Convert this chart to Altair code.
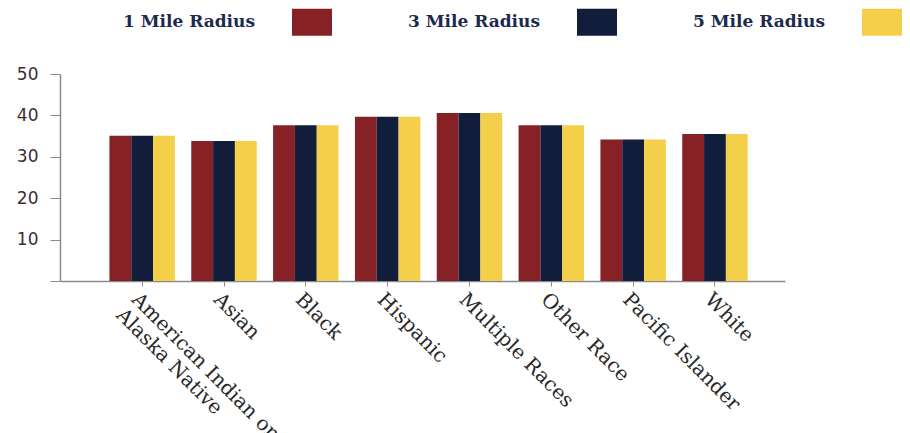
import altair as alt
import pandas as pd

categories = ["American Indian or Alaska Native", "Asian", "Black", "Hispanic",
              "Multiple Races", "Other Race", "Pacific Islander", "White"]
series = ["1 Mile Radius", "3 Mile Radius", "5 Mile Radius"]
one_mile = [35.1, 33.8, 37.6, 39.7, 40.6, 37.6, 34.2, 35.5]
three_mile = [35.1, 33.8, 37.6, 39.7, 40.6, 37.6, 34.2, 35.5]
five_mile = [35.1, 33.8, 37.6, 39.7, 40.6, 37.6, 34.2, 35.5]
colors = ["#862126", "#111d3b", "#f4d04a"]
y_ticks = [0, 10, 20, 30, 40, 50]

rows = []
for s, vals in zip(series, [one_mile, three_mile, five_mile]):
    for c, v in zip(categories, vals):
        rows.append({"category": c, "radius": s, "value": v})
df = pd.DataFrame(rows)

label_expr = ("datum.label == 'American Indian or Alaska Native' ? "
              "['American Indian or', 'Alaska Native'] : datum.label")

chart = alt.Chart(df).mark_bar().encode(
    x=alt.X("category:N", sort=categories,
            scale=alt.Scale(paddingInner=0.2, paddingOuter=0.53, align=0.57),
            axis=alt.Axis(title=None, labelAngle=45, labelAlign="left", labelBaseline="top",
                          labelFont="DejaVu Serif", labelFontSize=20, labelColor="#2a2a2a",
                          labelLineHeight=22, labelExpr=label_expr, labelPadding=3,
                          tickSize=5, tickColor="#8a8a8a", domainColor="#8a8a8a",
                          domainWidth=1.5, labelLimit=400)),
    xOffset=alt.XOffset("radius:N", sort=series),
    y=alt.Y("value:Q", scale=alt.Scale(domain=[0, 50], nice=False),
            axis=alt.Axis(title=None, values=y_ticks, grid=False,
                          labelExpr="datum.value == 0 ? '' : datum.label",
                          labelFont="DejaVu Sans", labelFontSize=17, labelColor="#3a2d3a",
                          labelPadding=12, tickSize=10, tickColor="#8a8a8a",
                          domainColor="#8a8a8a", domainWidth=1.5)),
    color=alt.Color("radius:N", sort=series,
                    scale=alt.Scale(domain=series, range=colors),
                    legend=alt.Legend(orient="none", legendX=232, legendY=-72,
                                      direction="horizontal", title=None,
                                      symbolType="M-1,-0.675H1V0.675H-1Z", symbolSize=1600,
                                      symbolStrokeWidth=0, symbolOpacity=1,
                                      labelAlign="right", labelOffset={"expr": "-77"},
                                      labelFont="DejaVu Serif", labelFontSize=17,
                                      labelFontWeight="bold",
                                      labelColor="#1b2a4e", columnPadding=75,
                                      padding=0, labelLimit=300)),
).properties(
    width=725, height=207,
    padding={"left": 16, "top": 2, "right": 0, "bottom": 0},
).configure_view(stroke=None)

chart.save("out.html", embed_options={"renderer": "svg", "actions": False})
